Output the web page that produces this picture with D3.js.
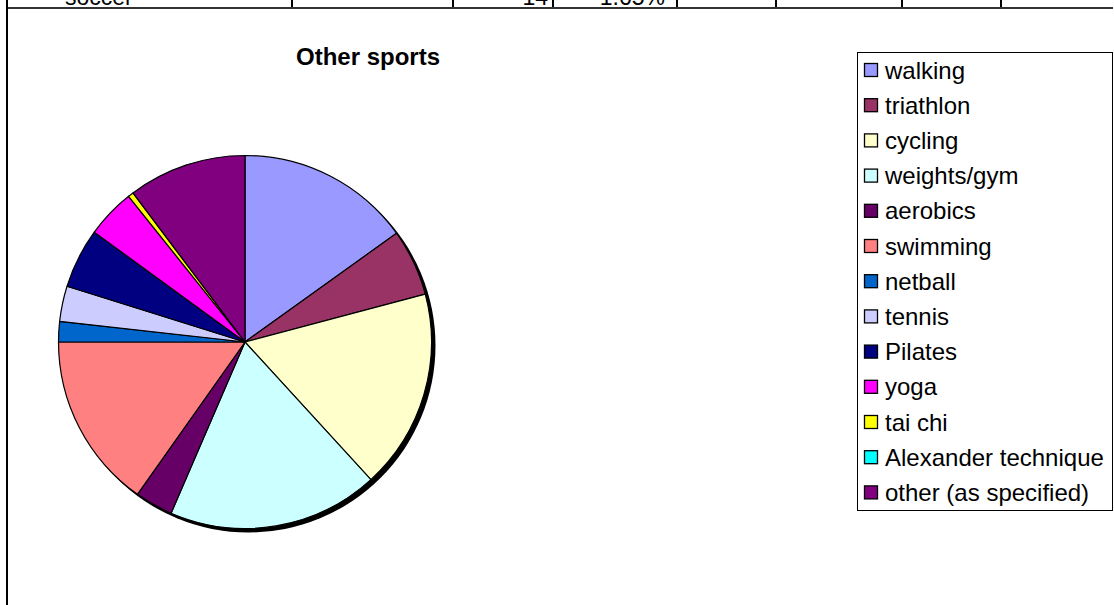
<!DOCTYPE html>
<html>
<head>
<meta charset="utf-8">
<script src="https://cdn.jsdelivr.net/npm/d3@7"></script>
<style>
  html, body { margin: 0; padding: 0; background: #fff; }
  svg { display: block; font-family: "Liberation Sans", Arial, sans-serif; }
</style>
</head>
<body>
<svg id="chart" width="1114" height="605"></svg>
<script>
// Survey responses: other sports taken up
const sports = ["walking", "triathlon", "cycling", "weights/gym", "aerobics", "swimming",
  "netball", "tennis", "Pilates", "yoga", "tai chi", "Alexander technique", "other (as specified)"];
const counts = [128, 49, 147, 155, 28, 129, 15, 26, 44, 36, 4, 0, 87];
const colours = ["#9999FF", "#993366", "#FFFFCC", "#CCFFFF", "#660066", "#FF8080",
  "#0066CC", "#CCCCFF", "#000080", "#FF00FF", "#FFFF00", "#00FFFF", "#800080"];

// Last visible row of the worksheet table above the chart
const tableRow = ["soccer", "", "14", "1.65%"];
const columnEdges = [7, 292, 453, 553, 677, 776, 902, 1001, 1114];

const svg = d3.select("#chart");

// --- worksheet fragment ---
const grid = svg.append("g");
columnEdges.slice(1, -1).forEach(x => {
  grid.append("line").attr("x1", x).attr("x2", x).attr("y1", 0).attr("y2", 8)
    .attr("stroke", "#000").attr("stroke-width", 2);
});
grid.append("line").attr("x1", 7).attr("x2", 1113).attr("y1", 8).attr("y2", 8)
  .attr("stroke", "#333").attr("stroke-width", 2);
grid.append("line").attr("x1", 7).attr("x2", 7).attr("y1", 0).attr("y2", 605)
  .attr("stroke", "#000").attr("stroke-width", 2);

grid.append("text").attr("x", 65).attr("y", 5).attr("font-size", 23).text(tableRow[0]);
grid.append("text").attr("x", 548).attr("y", 5).attr("font-size", 23)
  .attr("text-anchor", "end").text(tableRow[2]);
grid.append("text").attr("x", 665).attr("y", 5).attr("font-size", 23)
  .attr("text-anchor", "end").text(tableRow[3]);

// --- title ---
svg.append("text").attr("x", 368).attr("y", 65)
  .attr("text-anchor", "middle").attr("font-size", 24).attr("font-weight", "bold")
  .text("Other sports");

// --- pie ---
const cx = 245, cy = 342, r = 186.5;
const pie = d3.pie().sort(null).value(d => d.value);
const arc = d3.arc().innerRadius(0).outerRadius(r);
const data = sports.map((s, i) => ({ name: s, value: counts[i], colour: colours[i] }));

const pieG = svg.append("g").attr("transform", `translate(${cx},${cy})`);
// drop shadow behind the pie
pieG.append("circle").attr("cx", 3.5).attr("cy", 3.5).attr("r", r + 0.5).attr("fill", "#000");

pieG.selectAll("path.slice")
  .data(pie(data).filter(d => d.data.value > 0))
  .join("path")
  .attr("class", "slice")
  .attr("d", arc)
  .attr("fill", d => d.data.colour)
  .attr("stroke", "#000")
  .attr("stroke-width", 1.2)
  .attr("stroke-linejoin", "round");

// --- legend ---
const legX = 857, legY = 52, legW = 255, legH = 458, rowH = 35.2;
const leg = svg.append("g");
leg.append("rect").attr("x", legX + 0.5).attr("y", legY + 0.5).attr("width", legW).attr("height", legH)
  .attr("fill", "#fff").attr("stroke", "#000").attr("stroke-width", 1);

const rows = leg.selectAll("g.item").data(data).join("g")
  .attr("class", "item")
  .attr("transform", (d, i) => `translate(${legX + 7},${legY + 18 + i * rowH})`);
rows.append("rect").attr("x", 0.5).attr("y", -6.5).attr("width", 13).attr("height", 13)
  .attr("fill", d => d.colour).attr("stroke", "#000").attr("stroke-width", 1.3);
rows.append("text").attr("x", 21).attr("y", 8.5).attr("font-size", 24).text(d => d.name);
</script>
</body>
</html>
